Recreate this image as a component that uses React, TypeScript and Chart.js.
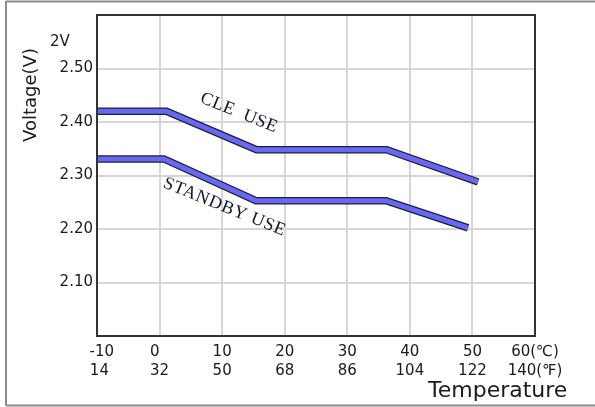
import React, { useEffect, useRef } from "react";
import { Chart, registerables } from "chart.js";

Chart.register(...registerables);

// Temperature tick labels (°C on first line, °F on second)
const celsiusLabels = ["  -10", "0  ", "10", "20", "30", "40", "50", "60(\u2103)"];
const fahrenheitLabels = [" 14", "32", "50", "68", "86", "104", "122", "140(\u2109)"];

// CLE USE series (temperature °C, voltage V)
const cleTemps = [-10, 1.1, 15.5, 36.3, 50.9];
const cleVolts = [2.42, 2.42, 2.348, 2.348, 2.288];

// STANDBY USE series
const standbyTemps = [-10, 0.7, 15.4, 36.2, 49.3];
const standbyVolts = [2.331, 2.331, 2.253, 2.253, 2.202];

const seriesNames = ["CLE  USE", "STANDBY USE"];

const BAND_FILL = "#6868f4";
const BAND_EDGE = "#1e1e30";

const framePlugin = {
  id: "frame",
  beforeDraw(chart: any) {
    const { ctx, width, height } = chart;
    ctx.save();
    ctx.fillStyle = "#ffffff";
    ctx.fillRect(0, 0, width, height);
    ctx.strokeStyle = "#8a8a8a";
    ctx.lineWidth = 2;
    ctx.beginPath();
    ctx.moveTo(6, 1.5);
    ctx.lineTo(width, 1.5);
    ctx.moveTo(6, 1);
    ctx.lineTo(6, height - 1.5);
    ctx.moveTo(6, height - 1.5);
    ctx.lineTo(width, height - 1.5);
    ctx.stroke();
    ctx.restore();
  },
  afterDraw(chart: any) {
    const { ctx, chartArea } = chart;
    const xs = chart.scales.x;
    const ys = chart.scales.y;
    ctx.save();
    // plot box
    ctx.strokeStyle = "#333333";
    ctx.lineWidth = 2;
    ctx.strokeRect(chartArea.left, chartArea.top, chartArea.right - chartArea.left, chartArea.bottom - chartArea.top);

    // series labels along the bands
    ctx.fillStyle = "#141430";
    ctx.font = '18px "Liberation Serif"';
    ctx.textAlign = "center";
    ctx.textBaseline = "middle";
    const labelPos = [
      { t: 12.7, v: 2.417, spacing: "0.6px" },
      { t: 10.4, v: 2.241, spacing: "0.8px" },
    ];
    labelPos.forEach((p, i) => {
      ctx.save();
      ctx.translate(xs.getPixelForValue(p.t), ys.getPixelForValue(p.v));
      ctx.rotate((22 * Math.PI) / 180);
      (ctx as any).letterSpacing = p.spacing;
      ctx.fillText(seriesNames[i], 0, 0);
      ctx.restore();
    });

    // axis titles and unit label
    ctx.fillStyle = "#1a1a1a";
    ctx.textAlign = "left";
    ctx.textBaseline = "alphabetic";
    ctx.font = '15px "DejaVu Sans"';
    ctx.fillText("2V", 50, 46);

    ctx.font = '22px "DejaVu Sans"';
    ctx.fillText("Temperature", 428, 397);

    ctx.save();
    ctx.translate(36, 95);
    ctx.rotate(-Math.PI / 2);
    ctx.textAlign = "center";
    ctx.font = '18px "DejaVu Sans"';
    ctx.fillText("Voltage(V)", 0, 0);
    ctx.restore();

    ctx.restore();
  },
};

export default function App() {
  const ref = useRef<HTMLCanvasElement | null>(null);

  useEffect(() => {
    if (!ref.current) return;
    const toPts = (ts: number[], vs: number[]) => ts.map((t, i) => ({ x: t, y: vs[i] }));
    const band = (data: any[], fill: boolean) => ({
      data,
      borderColor: fill ? BAND_FILL : BAND_EDGE,
      borderWidth: fill ? 5 : 7.5,
      pointRadius: 0,
      tension: 0,
      borderCapStyle: "butt",
      borderJoinStyle: "miter",
      fill: false,
      order: fill ? 0 : 1,
    });
    const cle = toPts(cleTemps, cleVolts);
    const sb = toPts(standbyTemps, standbyVolts);

    const chart = new Chart(ref.current, {
      type: "line",
      data: {
        datasets: [band(cle, true), band(sb, true), band(cle, false), band(sb, false)] as any,
      },
      options: {
        animation: false,
        responsive: false,
        devicePixelRatio: 1,
        layout: { padding: { top: 15, right: 60, left: 0, bottom: 0 } },
        plugins: { legend: { display: false }, tooltip: { enabled: false } },
        scales: {
          x: {
            type: "linear",
            min: -10,
            max: 60,
            afterFit: (s: any) => {
              s.height = 71;
            },
            border: { color: "#333333", width: 2 },
            grid: { color: "#d6d6d6", lineWidth: 2, drawTicks: false },
            ticks: {
              stepSize: 10,
              padding: 7,
              color: "#1a1a1a",
              maxRotation: 0,
              autoSkip: false,
              font: { family: "DejaVu Sans", size: 15, lineHeight: 1.27 },
              callback: (v: any) => {
                const i = Math.round((Number(v) + 10) / 10);
                return [celsiusLabels[i], fahrenheitLabels[i]];
              },
            },
          },
          y: {
            type: "linear",
            min: 2.0,
            max: 2.6,
            afterFit: (s: any) => {
              s.width = 97;
            },
            border: { color: "#333333", width: 2 },
            grid: { color: "#d6d6d6", lineWidth: 2, drawTicks: false },
            ticks: {
              stepSize: 0.1,
              padding: 4,
              color: "#1a1a1a",
              font: { family: "DejaVu Sans", size: 15 },
              callback: (v: any) => {
                const n = Number(v);
                if (Math.abs(n - 2.0) < 1e-6 || Math.abs(n - 2.6) < 1e-6) return "";
                return n.toFixed(2);
              },
            },
          },
        },
      },
      plugins: [framePlugin],
    });
    return () => chart.destroy();
  }, []);

  return (
    <div style={{ position: "fixed", left: 0, top: 0, width: 595, height: 407 }}>
      <canvas ref={ref} width={595} height={407} />
    </div>
  );
}
